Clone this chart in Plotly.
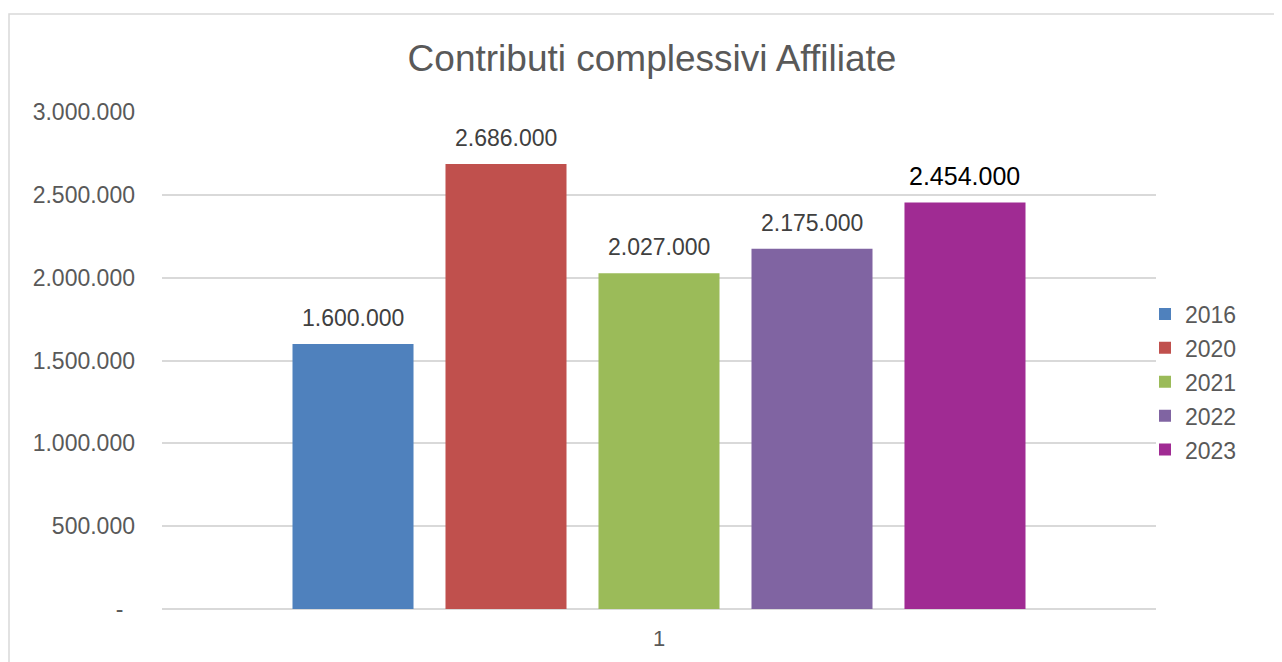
import plotly.graph_objects as go

# ---- data ----
category = ["1"]
years = ["2016", "2020", "2021", "2022", "2023"]
values = [1600000, 2686000, 2027000, 2175000, 2454000]
labels = ["1.600.000", "2.686.000", "2.027.000", "2.175.000", "2.454.000"]
colors = ["#4F81BD", "#C0504D", "#9BBB59", "#8064A2", "#A02B93"]
label_colors = ["#404040", "#404040", "#404040", "#404040", "#000000"]
label_sizes = [23, 23, 23, 23, 25]
y_tickvals = [0, 500000, 1000000, 1500000, 2000000, 2500000, 3000000]
y_ticktext = ["-\u2002", "500.000", "1.000.000", "1.500.000", "2.000.000", "2.500.000", "3.000.000"]

FONT = "Liberation Sans, Arial, sans-serif"
OFF = 8  # page body margin
W, H = 1282 - OFF, 662 - OFF
ML, MR, MT, MB = 162 - OFF, 126, 112 - OFF, 53
PW, PH = W - ML - MR, H - MT - MB
BARGAP = 0.2304
BARGROUPGAP = 0.209

fig = go.Figure()
for yr, v, c in zip(years, values, colors):
    fig.add_trace(go.Bar(
        x=category, y=[v], name=yr, marker=dict(color=c, line=dict(width=0)),
        legendgroup=yr, hoverinfo="skip",
    ))

# data labels above the bars (centres follow the grouped-bar layout)
n = len(years)
group_w = 1 - BARGAP
slot = group_w / n
for i, (v, t, tc, ts) in enumerate(zip(values, labels, label_colors, label_sizes)):
    fig.add_annotation(
        x=-group_w / 2 + slot * (i + 0.5), y=v, xref="x", yref="y",
        text=t, showarrow=False, yanchor="middle", yshift=26,
        font=dict(family=FONT, size=ts, color=tc),
    )

# chart-area border
fig.add_shape(type="rect", xref="paper", yref="paper",
              x0=(9 - OFF - ML) / PW, x1=1.3, y0=-0.3, y1=(H - MB - (14 - OFF)) / PH,
              line=dict(color="#D9D9D9", width=1.5), fillcolor="rgba(0,0,0,0)", layer="below")

fig.update_layout(
    width=W, height=H,
    margin=dict(l=ML, r=MR, t=MT, b=MB, pad=0),
    paper_bgcolor="white", plot_bgcolor="white",
    barmode="group", bargap=BARGAP, bargroupgap=BARGROUPGAP,
    title=dict(text="Contributi complessivi Affiliate", x=(652 - OFF) / W, xref="container",
               y=1 - (58 - OFF) / H, yref="container", xanchor="center", yanchor="middle",
               font=dict(family=FONT, size=37, color="#595959")),
    font=dict(family=FONT, size=23, color="#595959"),
    showlegend=True,
    legend=dict(x=(1145 - 162) / PW, xanchor="left", y=(609 - 382) / PH, yanchor="middle",
                font=dict(family=FONT, size=23, color="#595959"),
                tracegroupgap=1, bgcolor="rgba(0,0,0,0)", borderwidth=0),
    xaxis=dict(type="category", showgrid=False, showline=False, zeroline=False,
               ticks="", tickfont=dict(family=FONT, size=22, color="#595959"),
               ticklabelstandoff=14, fixedrange=True),
    yaxis=dict(range=[0, 3000000], tickvals=y_tickvals, ticktext=y_ticktext,
               showgrid=True, gridcolor="#D9D9D9", gridwidth=1.5,
               zeroline=True, zerolinecolor="#D9D9D9", zerolinewidth=2,
               showline=False, ticks="", ticklabelstandoff=26,
               tickfont=dict(family=FONT, size=23, color="#595959"), fixedrange=True),
)

fig.write_html("out.html")
